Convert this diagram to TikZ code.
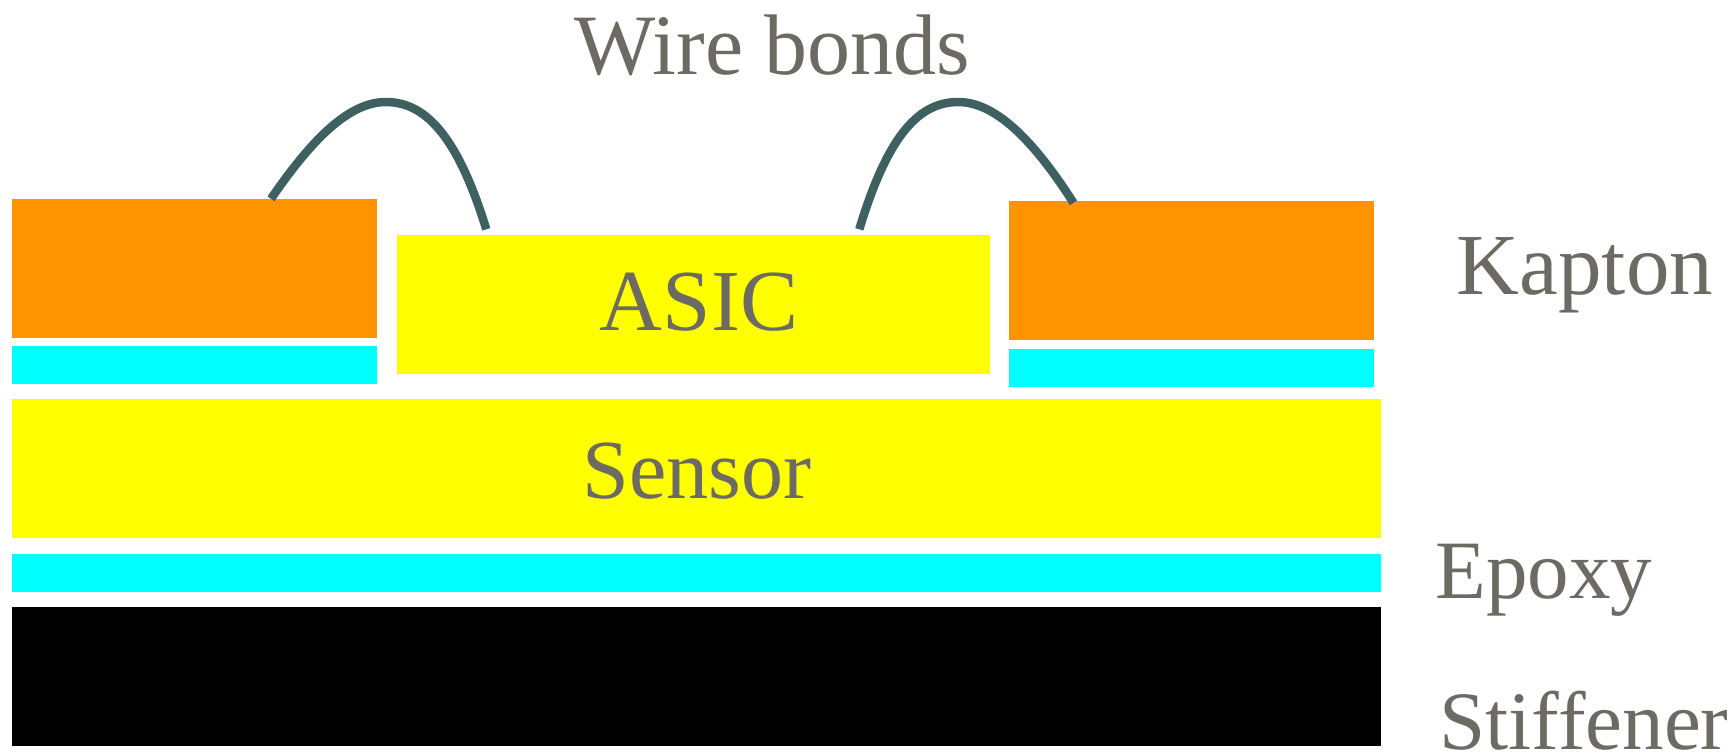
\documentclass[tikz,border=0pt]{standalone}
\usepackage{fontspec}
\setmainfont{Liberation Serif}
\definecolor{kaptonc}{HTML}{FF9300}
\definecolor{epoxyc}{HTML}{00FFFF}
\definecolor{siliconc}{HTML}{FFFF00}
\definecolor{wirec}{HTML}{3F6060}
\definecolor{textc}{HTML}{6C6A62}
\tikzset{
  layer/.style={inner sep=0pt,outer sep=0pt,anchor=north west,draw=none},
  lbl/.style={inner sep=0pt,outer sep=0pt,anchor=base,text=textc},
  wirebond/.style={draw=wirec,line width=8.5pt,line cap=butt}
}
\newcommand{\fs}[1]{\fontsize{#1}{#1}\selectfont}
\begin{document}
\begin{tikzpicture}[x=1pt,y=-1pt]
\useasboundingbox (0,0) rectangle (1735,753);
\node[layer,fill=kaptonc,minimum width=365pt,minimum height=139pt] (kl) at (12,199.3) {};
\node[layer,fill=epoxyc,minimum width=365pt,minimum height=38pt] (el) at (12,346.3) {};
\node[layer,fill=siliconc,minimum width=593.5pt,minimum height=139pt] (asic) at (396.8,235.3) {};
\node[layer,fill=kaptonc,minimum width=365pt,minimum height=139pt] (kr) at (1009,201.3) {};
\node[layer,fill=epoxyc,minimum width=365pt,minimum height=38pt] (er) at (1009,349.3) {};
\node[layer,fill=siliconc,minimum width=1369pt,minimum height=139pt] (sensor) at (12,399.3) {};
\node[layer,fill=epoxyc,minimum width=1369pt,minimum height=38pt] (eb) at (12,554.3) {};
\node[layer,fill=black,minimum width=1369pt,minimum height=139pt] (stiff) at (12,607.3) {};
\coordinate (wla) at ([xshift=259pt,yshift=0.5pt]kl.north west);
\coordinate (wlb) at ([xshift=89.5pt,yshift=6pt]asic.north west);
\coordinate (wra) at ([xshift=-131pt,yshift=6pt]asic.north east);
\coordinate (wrb) at ([xshift=64.5pt,yshift=-1.5pt]kr.north west);
\draw[wirebond] (wla) .. controls (312,139) and (349,102) .. (386,102)
   .. controls (428,102) and (459,141) .. (wlb);
\draw[wirebond] (wra) .. controls (886,141) and (916,102) .. (958,102)
   .. controls (995,102) and (1032.6,139) .. (wrb);
\node[lbl,font=\fs{86}] (twire) at (772.5,74) {Wire bonds};
\node[lbl,font=\fs{87}] (tasic) at (699,330) {ASIC};
\node[lbl,font=\fs{84}] (tsensor) at (697,498) {Sensor};
\node[lbl,font=\fs{87}] (tkapton) at (1585,294) {Kapton};
\node[lbl,font=\fs{83}] (tepoxy) at (1544,598) {Epoxy};
\node[lbl,font=\fs{83}] (tstiff) at (1584,749) {Stiffener};
\end{tikzpicture}
\end{document}
